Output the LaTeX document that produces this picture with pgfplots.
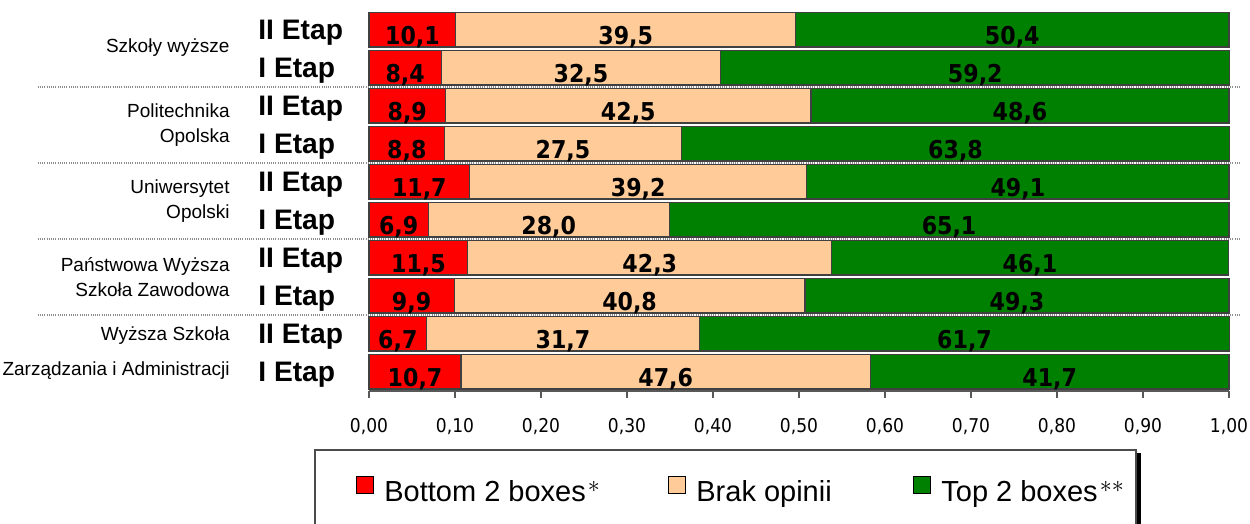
\documentclass[border=0pt]{standalone}
\usepackage{pgfplots}
\usepackage{pgfplotstable}
\pgfplotsset{compat=1.18}
\usepackage{fontspec}
\setmainfont{Liberation Sans}
\newfontfamily\tickfont{DejaVu Sans Condensed}
\newfontfamily\numfont{DejaVu Sans Condensed Bold}
\definecolor{cred}{HTML}{FF0000}
\definecolor{cbeige}{HTML}{FFCC99}
\definecolor{cgreen}{HTML}{008000}
\newcommand{\sast}[1]{\hspace{1pt}\raisebox{4.8pt}{\fontsize{13}{13}\selectfont$#1$}}

\pgfplotstableread{
y  red  beige green
10 10.1 39.5 50.4
9  8.4  32.5 59.2
8  8.9  42.5 48.6
7  8.8  27.5 63.8
6  11.7 39.2 49.1
5  6.9  28.0 65.1
4  11.5 42.3 46.1
3  9.9  40.8 49.3
2  6.7  31.7 61.7
1  10.7 47.6 41.7
}\data

\begin{document}
\begin{tikzpicture}
\begin{axis}[
  at={(0,0)}, anchor=south west,
  width=430pt, height=190pt, scale only axis,
  xbar stacked, bar width=0.9,
  xmin=0, xmax=1, ymin=0.5, ymax=10.5,
  clip=false,
  axis x line*=bottom, axis y line*=left,
  y axis line style={draw=none},
  x axis line style={draw=black!65, line width=0.9pt, -},
  tick align=outside, major tick length=3.5pt,
  xtick={0,0.1,0.2,0.3,0.4,0.5,0.6,0.7,0.8,0.9,1.0},
  xtick style={draw=black!65, line width=0.9pt},
  ytick style={draw=none},
  /pgf/number format/assume math mode=true,
  xticklabel={\pgfmathprintnumber[fixed,fixed zerofill,precision=2,use comma]{\tick}},
  xticklabel style={font=\tickfont\fontsize{9.5}{11}\selectfont, yshift=-6.5pt},
  ytick={1,2,3,4,5,6,7,8,9,10},
  yticklabels={I Etap,II Etap,I Etap,II Etap,I Etap,II Etap,I Etap,II Etap,I Etap,II Etap},
  yticklabel style={anchor=base west, xshift=-52pt, yshift=-5pt, inner sep=0pt,
     font=\bfseries\fontsize{14.1}{16}\selectfont},
  extra y ticks={1.5,3.5,5.5,7.5,9.5},
  extra y tick labels={{Wyższa Szkoła\\[5pt]Zarządzania i Administracji},
     {Państwowa Wyższa\\Szkoła Zawodowa},
     {Uniwersytet\\Opolski},
     {Politechnika\\Opolska},
     {\raisebox{3.5pt}{Szkoły wyższe}}},
  extra y tick style={major tick length=0pt,
     yticklabel style={anchor=east, xshift=-17.5pt, yshift=5pt, align=right,
       font=\mdseries\fontsize{9.5}{12.5}\selectfont}},
  legend columns=3,
  legend cell align=left,
  legend image code/.code={\draw[#1, draw=black, line width=0.5pt] (0pt,-0.5pt) rectangle (8.5pt,8pt);},
  legend style={draw=none, fill=none, inner sep=0pt,
     at={(rel axis cs:-0.0151,-0.262)}, anchor=west,
     font=\fontsize{14.5}{17}\selectfont,
     nodes={inner sep=0pt},
     /tikz/every odd column/.append style={column sep=5pt},
     /tikz/every even column/.append style={column sep=0pt}},
]
\foreach \yy in {2.5,4.5,6.5,8.5}{
  \edef\tmp{\noexpand\draw[dash pattern=on 0.5pt off 0.6pt, black!45, line width=0.6pt] (axis cs:-0.385,\yy) -- (axis cs:1.0128,\yy);}
  \tmp
}
\addplot[fill=cred, draw=black!75, line width=0.6pt] table[x expr=\thisrow{red}/100, y=y]{\data};
\addplot[fill=cbeige, draw=black!75, line width=0.6pt] table[x expr=\thisrow{beige}/100, y=y]{\data};
\addplot[fill=cgreen, draw=black!75, line width=0.6pt] table[x expr=\thisrow{green}/100, y=y]{\data};
\legend{\makebox[142pt][l]{Bottom 2 boxes\sast{*}},\makebox[108.5pt][l]{Brak opinii},Top 2 boxes\sast{**}}
\draw[black!70, line width=0.7pt] (rel axis cs:-0.0628,-0.6) -- (rel axis cs:-0.0628,-0.1553) -- (rel axis cs:0.8919,-0.1553) -- (rel axis cs:0.8919,-0.6);
\draw[black, line width=2.5pt] (rel axis cs:0.8953,-0.1632) -- (rel axis cs:0.8953,-0.6);
\end{axis}

\begin{axis}[
  at={(0,0)}, anchor=south west,
  width=430pt, height=190pt, scale only axis,
  xmin=0, xmax=1, ymin=0.5, ymax=10.5,
  hide axis, clip=false,
  point meta=explicit,
  /pgf/number format/assume math mode=true,
  nodes near coords={\pgfmathprintnumber[fixed,fixed zerofill,precision=1,use comma]{\pgfplotspointmeta}},
  every node near coord/.append style={font=\numfont\fontsize{12.3}{14}\selectfont, anchor=base, yshift=-7.5pt, inner sep=0pt, text=black},
]
\addplot[only marks, mark=*, mark size=0pt, mark options={draw=none,fill=none}] table[x expr=\thisrow{red}/200, y=y, meta=red]{\data};
\addplot[only marks, mark=*, mark size=0pt, mark options={draw=none,fill=none}] table[x expr=(\thisrow{red}+\thisrow{beige}/2)/100, y=y, meta=beige]{\data};
\addplot[only marks, mark=*, mark size=0pt, mark options={draw=none,fill=none}] table[x expr=(\thisrow{red}+\thisrow{beige}+\thisrow{green}/2)/100, y=y, meta=green]{\data};
\end{axis}
\pgfresetboundingbox
\useasboundingbox (-184.5pt,-66.5pt) rectangle (440.5pt,195.5pt);
\end{tikzpicture}
\end{document}
